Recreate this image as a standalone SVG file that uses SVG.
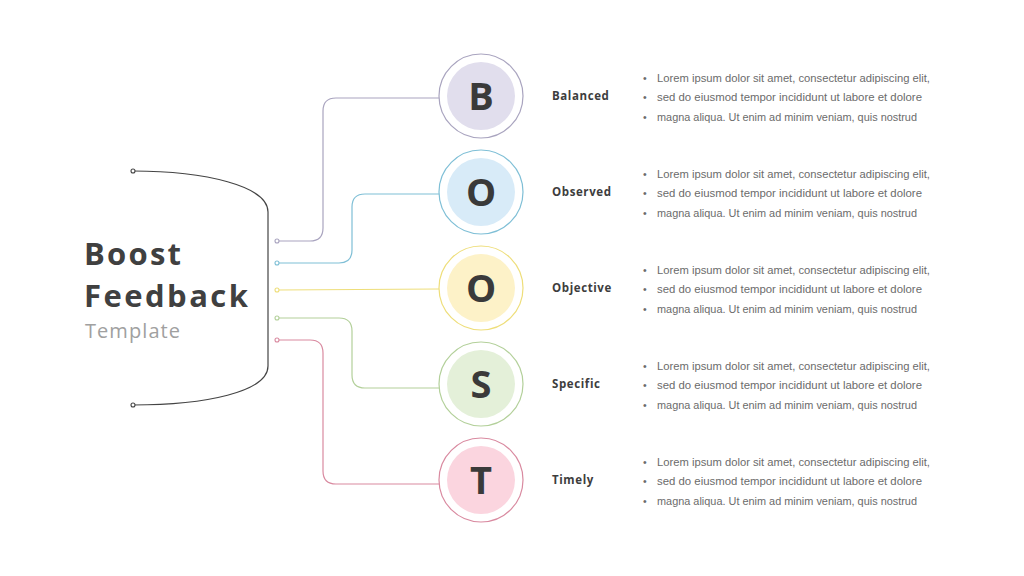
<svg xmlns="http://www.w3.org/2000/svg" width="1024" height="576" viewBox="0 0 1024 576">
<style>
.bg{fill:#ffffff}
.lines path{fill:none;stroke-width:1.2}
.dot{fill:#ffffff;stroke-width:1.1}
.ring{fill:#ffffff;stroke-width:1.2}
.letter{font-family:"Open Sans","Liberation Sans",sans-serif;font-weight:700;font-size:38px;fill:#3a3a3a;text-anchor:middle}
.label{font-family:"Open Sans","Liberation Sans",sans-serif;font-weight:700;font-size:11.5px;fill:#3d3d3d;letter-spacing:0.6px}
.body{font-family:"Liberation Sans","DejaVu Sans",sans-serif;font-size:10.5px;fill:#6b6b6b}
.title{font-family:"Open Sans","Liberation Sans",sans-serif;font-weight:700;font-size:31px;fill:#404040}
.sub{font-family:"Open Sans","Liberation Sans",sans-serif;font-size:20px;fill:#a0a0a0}
</style>
<rect class="bg" width="1024" height="576"/>
<g id="title">
<text class="title" x="84" y="265" textLength="97" lengthAdjust="spacing">Boost</text>
<text class="title" x="84" y="307" textLength="164" lengthAdjust="spacing">Feedback</text>
<text class="sub" x="85" y="338" textLength="95" lengthAdjust="spacing">Template</text>
</g>
<g id="connectors" class="lines">
<path d="M133,171 C205,171 268,186 268,212 L268,366 C268,392 205,405 133,405" stroke="#444"/>
<circle class="dot" cx="133" cy="171" r="2" stroke="#444"/>
<circle class="dot" cx="133" cy="405" r="2" stroke="#444"/>
<path d="M277,241 L310,241 Q323,241 323,228 L323,111 Q323,98 336,98 L439,98" stroke="#a9a4bf"/>
<circle class="dot" cx="277" cy="241" r="2" stroke="#a9a4bf"/>
<path d="M277,263 L339,263 Q352,263 352,250 L352,207 Q352,194 365,194 L439,194" stroke="#7fbfd6"/>
<circle class="dot" cx="277" cy="263" r="2" stroke="#7fbfd6"/>
<path d="M277,290 L439,289" stroke="#eede7a"/>
<circle class="dot" cx="277" cy="290" r="2" stroke="#eede7a"/>
<path d="M277,318 L339,318 Q352,318 352,331 L352,375 Q352,388 365,388 L439,388" stroke="#b3d09a"/>
<circle class="dot" cx="277" cy="318" r="2" stroke="#b3d09a"/>
<path d="M277,340 L310,340 Q323,340 323,353 L323,471 Q323,484 336,484 L439,484" stroke="#d98aa0"/>
<circle class="dot" cx="277" cy="340" r="2" stroke="#d98aa0"/>
</g>
<g id="node-b">
<circle class="ring" cx="481" cy="96" r="42" stroke="#a9a4bf"/>
<circle cx="481" cy="96" r="34" fill="#e1deed"/>
<text class="letter" x="481" y="110">B</text>
<text class="label" x="552" y="100">Balanced</text>
<g class="body">
<text x="643" y="82">•</text><text x="657" y="82" textLength="273" lengthAdjust="spacingAndGlyphs">Lorem ipsum dolor sit amet, consectetur  adipiscing elit,</text>
<text x="643" y="101">•</text><text x="657" y="101" textLength="265" lengthAdjust="spacingAndGlyphs">sed do eiusmod tempor incididunt  ut labore et dolore</text>
<text x="643" y="121">•</text><text x="657" y="121" textLength="260" lengthAdjust="spacingAndGlyphs">magna aliqua. Ut enim ad minim veniam, quis nostrud</text>
</g>
</g>
<g id="node-o1">
<circle class="ring" cx="481" cy="192" r="42" stroke="#7fbfd6"/>
<circle cx="481" cy="192" r="34" fill="#d8ebf8"/>
<text class="letter" x="481" y="206">O</text>
<text class="label" x="552" y="196">Observed</text>
<g class="body">
<text x="643" y="178">•</text><text x="657" y="178" textLength="273" lengthAdjust="spacingAndGlyphs">Lorem ipsum dolor sit amet, consectetur  adipiscing elit,</text>
<text x="643" y="197">•</text><text x="657" y="197" textLength="265" lengthAdjust="spacingAndGlyphs">sed do eiusmod tempor incididunt  ut labore et dolore</text>
<text x="643" y="217">•</text><text x="657" y="217" textLength="260" lengthAdjust="spacingAndGlyphs">magna aliqua. Ut enim ad minim veniam, quis nostrud</text>
</g>
</g>
<g id="node-o2">
<circle class="ring" cx="481" cy="288" r="42" stroke="#eede7a"/>
<circle cx="481" cy="288" r="34" fill="#fdf2c8"/>
<text class="letter" x="481" y="302">O</text>
<text class="label" x="552" y="292">Objective</text>
<g class="body">
<text x="643" y="274">•</text><text x="657" y="274" textLength="273" lengthAdjust="spacingAndGlyphs">Lorem ipsum dolor sit amet, consectetur  adipiscing elit,</text>
<text x="643" y="293">•</text><text x="657" y="293" textLength="265" lengthAdjust="spacingAndGlyphs">sed do eiusmod tempor incididunt  ut labore et dolore</text>
<text x="643" y="313">•</text><text x="657" y="313" textLength="260" lengthAdjust="spacingAndGlyphs">magna aliqua. Ut enim ad minim veniam, quis nostrud</text>
</g>
</g>
<g id="node-s">
<circle class="ring" cx="481" cy="384" r="42" stroke="#b3d09a"/>
<circle cx="481" cy="384" r="34" fill="#e4f0d9"/>
<text class="letter" x="481" y="398">S</text>
<text class="label" x="552" y="388">Specific</text>
<g class="body">
<text x="643" y="370">•</text><text x="657" y="370" textLength="273" lengthAdjust="spacingAndGlyphs">Lorem ipsum dolor sit amet, consectetur  adipiscing elit,</text>
<text x="643" y="389">•</text><text x="657" y="389" textLength="265" lengthAdjust="spacingAndGlyphs">sed do eiusmod tempor incididunt  ut labore et dolore</text>
<text x="643" y="409">•</text><text x="657" y="409" textLength="260" lengthAdjust="spacingAndGlyphs">magna aliqua. Ut enim ad minim veniam, quis nostrud</text>
</g>
</g>
<g id="node-t">
<circle class="ring" cx="481" cy="480" r="42" stroke="#d98aa0"/>
<circle cx="481" cy="480" r="34" fill="#fbd5df"/>
<text class="letter" x="481" y="494">T</text>
<text class="label" x="552" y="484">Timely</text>
<g class="body">
<text x="643" y="466">•</text><text x="657" y="466" textLength="273" lengthAdjust="spacingAndGlyphs">Lorem ipsum dolor sit amet, consectetur  adipiscing elit,</text>
<text x="643" y="485">•</text><text x="657" y="485" textLength="265" lengthAdjust="spacingAndGlyphs">sed do eiusmod tempor incididunt  ut labore et dolore</text>
<text x="643" y="505">•</text><text x="657" y="505" textLength="260" lengthAdjust="spacingAndGlyphs">magna aliqua. Ut enim ad minim veniam, quis nostrud</text>
</g>
</g>
</svg>
